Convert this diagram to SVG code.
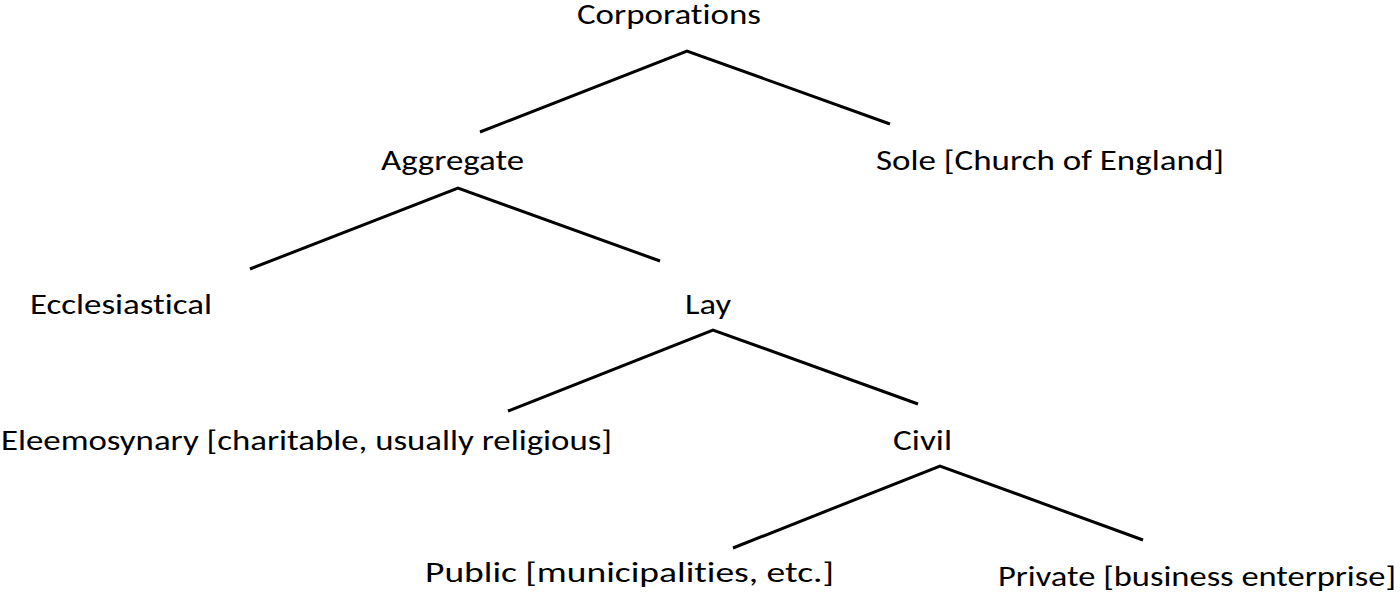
<svg xmlns="http://www.w3.org/2000/svg" width="1400" height="593" viewBox="0 0 1400 593">
<style>
.t{font-family:Carlito,Calibri,Lato,"Open Sans",sans-serif;font-size:28px;fill:#000;font-variant-ligatures:none}
.c line,.c polyline{stroke:#000;stroke-width:3;fill:none}
</style>
<rect width="1400" height="593" fill="#fff"/>
<g class="c" id="connectors">
<polyline points="480,132 687,51 890,124"/>
<polyline points="250,269 458,188 660,261"/>
<polyline points="508,411 713,330 918,404"/>
<polyline points="733,548 940,466 1143,540"/>
</g>
<g id="n-corporations"><text class="t" x="577" y="24" textLength="184" lengthAdjust="spacingAndGlyphs">Corporations</text></g>
<g id="n-aggregate"><text class="t" x="381" y="170" textLength="143" lengthAdjust="spacingAndGlyphs">Aggregate</text></g>
<g id="n-sole"><text class="t" x="876" y="170" textLength="348" lengthAdjust="spacingAndGlyphs">Sole [Church of England]</text></g>
<g id="n-ecclesiastical"><text class="t" x="30" y="314" textLength="182" lengthAdjust="spacingAndGlyphs">Ecclesiastical</text></g>
<g id="n-lay"><text class="t" x="685" y="314" textLength="46" lengthAdjust="spacingAndGlyphs">Lay</text></g>
<g id="n-eleemosynary"><text class="t" x="1" y="450" textLength="611" lengthAdjust="spacingAndGlyphs">Eleemosynary [charitable, usually religious]</text></g>
<g id="n-civil"><text class="t" x="893" y="450" textLength="59" lengthAdjust="spacingAndGlyphs">Civil</text></g>
<g id="n-public"><text class="t" x="425" y="582" textLength="409" lengthAdjust="spacingAndGlyphs">Public [municipalities, etc.]</text></g>
<g id="n-private"><text class="t" x="998" y="586" textLength="398" lengthAdjust="spacingAndGlyphs">Private [business enterprise]</text></g>
</svg>
